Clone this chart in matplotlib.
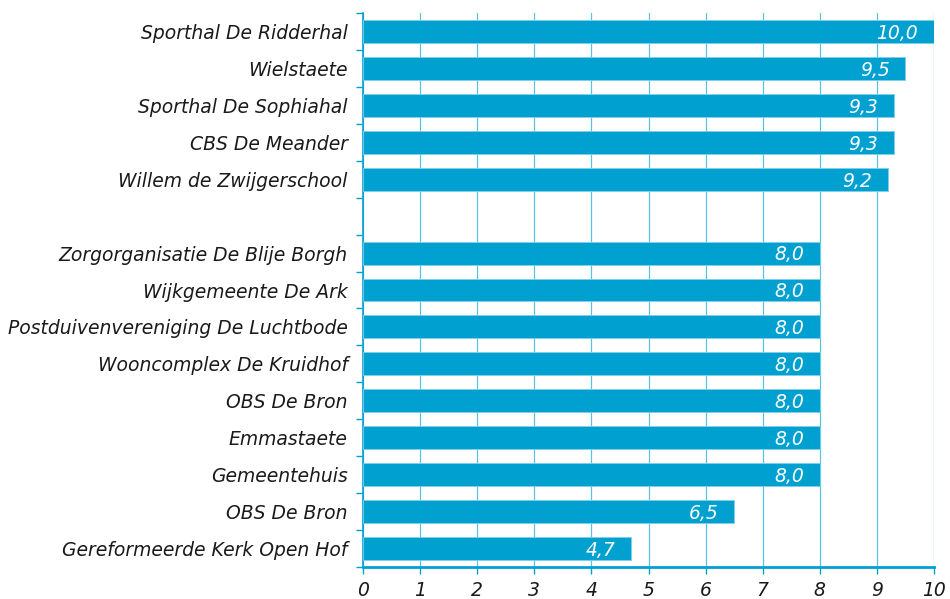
import matplotlib
matplotlib.use("Agg")
import matplotlib.pyplot as plt
import numpy as np

categories = [
    "Sporthal De Ridderhal",
    "Wielstaete",
    "Sporthal De Sophiahal",
    "CBS De Meander",
    "Willem de Zwijgerschool",
    "",
    "Zorgorganisatie De Blije Borgh",
    "Wijkgemeente De Ark",
    "Postduivenvereniging De Luchtbode",
    "Wooncomplex De Kruidhof",
    "OBS De Bron",
    "Emmastaete",
    "Gemeentehuis",
    "OBS De Bron",
    "Gereformeerde Kerk Open Hof",
]
values = [10.0, 9.5, 9.3, 9.3, 9.2, None, 8.0, 8.0, 8.0, 8.0, 8.0, 8.0, 8.0, 6.5, 4.7]
xticks = list(range(0, 11))

bar_color = "#00a0d1"
grid_color = "#5bc2e7"
fs = 13.5

fig = plt.figure(figsize=(9.5, 5.99), dpi=100)
ax = fig.add_axes([363/950, 1 - 567/599, (934-363)/950, (567-13)/599])

n = len(categories)
ypos = np.arange(n)
for y, v in zip(ypos, values):
    if v is None:
        continue
    ax.barh(y, v, height=0.62, color=bar_color, edgecolor="#7fd0ea", linewidth=0.6, zorder=3)
    ax.text(v - 0.28, y + 0.05, f"{v:.1f}".replace(".", ","), ha="right", va="center",
            color="white", fontsize=fs, style="italic", zorder=4)

ax.set_ylim(n - 0.5, -0.5)
ax.set_xlim(0, 10)
ax.set_yticks(ypos)
ax.set_yticklabels(categories, fontsize=fs, style="italic", color="#1a1a1a")
ax.set_yticks(np.arange(-0.5, n, 1), minor=True)
ax.tick_params(axis="y", which="major", length=0, pad=11)
ax.tick_params(axis="y", which="minor", length=5, color=bar_color, width=1)
ax.set_xticks(xticks)
ax.set_xticklabels([str(t) for t in xticks], fontsize=fs, style="italic", color="#1a1a1a")
ax.tick_params(axis="x", which="major", length=5, color=bar_color, width=1, pad=5)

ax.grid(axis="x", color=grid_color, linewidth=0.9, zorder=0)
ax.set_axisbelow(True)
for s in ["top", "right"]:
    ax.spines[s].set_visible(False)
ax.spines["left"].set_color(bar_color)
ax.spines["left"].set_linewidth(1.2)
ax.spines["bottom"].set_color(bar_color)
ax.spines["bottom"].set_linewidth(2)

fig.savefig("out.png", dpi=100)
